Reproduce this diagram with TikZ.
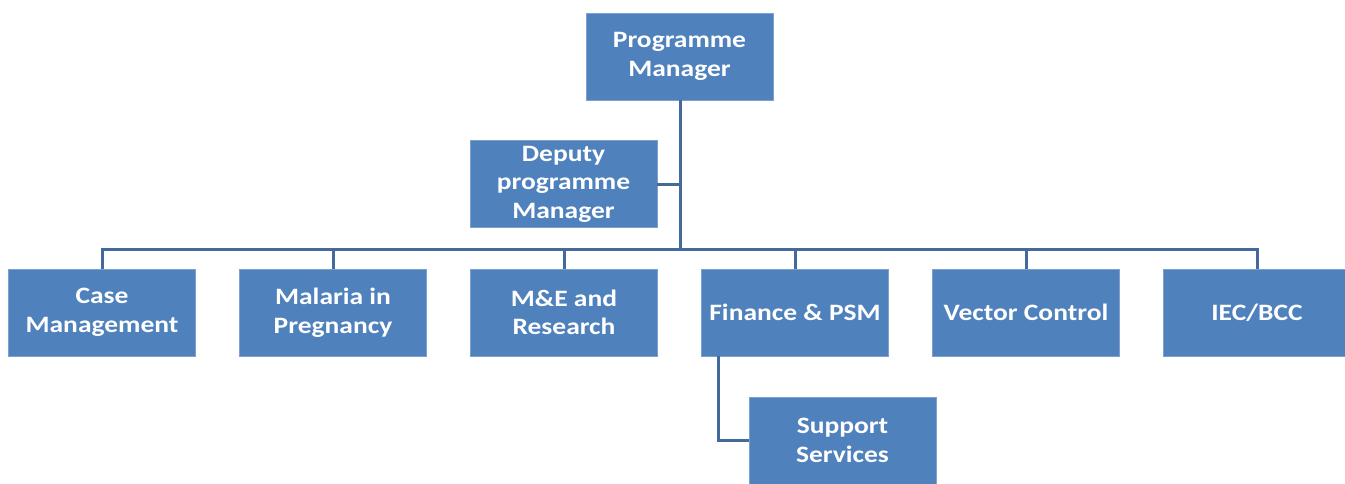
\documentclass[tikz,border=0pt]{standalone}
\usepackage{fontspec}
\setmainfont[FakeStretch=1.17]{Carlito}
\definecolor{boxblue}{HTML}{4F81BD}
\definecolor{boxedge}{HTML}{7DA0CE}
\definecolor{linkblue}{HTML}{44699B}

\begin{document}
\begin{tikzpicture}[x=1pt,y=-1pt,line width=3pt]
    \tikzstyle{unit}=[rectangle,draw=boxedge,line width=0.6pt,fill=boxblue,text=white,
        font=\fontsize{23.5}{28.5}\selectfont\bfseries,align=center,
        minimum width=187pt,minimum height=87pt,inner sep=0pt]
    \tikzstyle{link}=[draw=linkblue,line width=3pt]
    \useasboundingbox (0,0) rectangle (1345,483);

    \node[unit] (PM) at (679.5,56.5) {Programme\\Manager};
    \node[unit] (DPM) at (563.5,184) {Deputy\\programme\\Manager};

    \foreach \num/\x/\txt in {1/102/{Case\\Management}, 2/333/{Malaria in\\Pregnancy},
            3/564/{M\&E and\\Research}, 4/795/{Finance \& PSM},
            5/1026/{Vector Control}, 6/1257/{IEC/BCC}}
        \node[unit] (U-\num) at (\x,312.5) {\txt};

    \node[unit] (SS) at (842.5,440.5) {Support\\Services};

    % bus under the deputy
    \coordinate (bus) at (680,249);
    \draw[link] (PM.south -| bus) -- (bus);
    \draw[link] (DPM.east) -- (DPM.east -| bus);
    \draw[link] (U-1.north) |- (bus) -| (U-6.north);
    \foreach \num in {2,...,5}
        \draw[link] (U-\num.north) -- (U-\num.north |- bus);

    % support services hangs off finance
    \draw[link] ([xshift=17pt]U-4.south west) |- (SS.west);
\end{tikzpicture}
\end{document}
